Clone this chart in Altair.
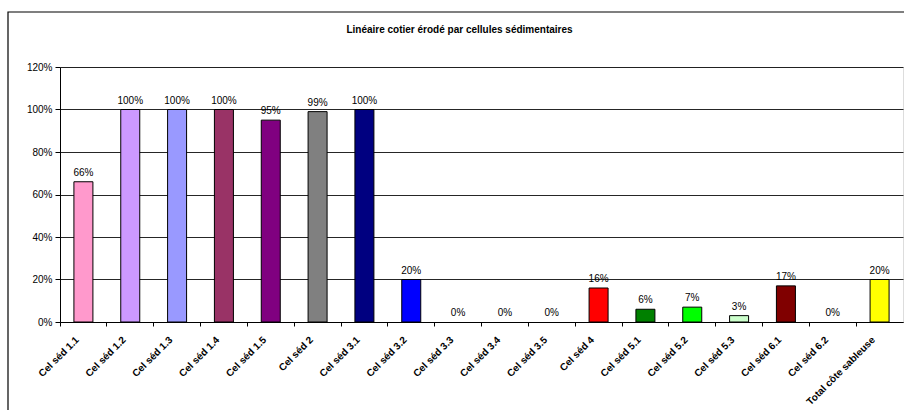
import altair as alt
import pandas as pd

categories = ["Cel séd 1.1", "Cel séd 1.2", "Cel séd 1.3", "Cel séd 1.4", "Cel séd 1.5",
              "Cel séd 2", "Cel séd 3.1", "Cel séd 3.2", "Cel séd 3.3", "Cel séd 3.4",
              "Cel séd 3.5", "Cel séd 4", "Cel séd 5.1", "Cel séd 5.2", "Cel séd 5.3",
              "Cel séd 6.1", "Cel séd 6.2", "Total côte sableuse"]
values = [0.66, 1.00, 1.00, 1.00, 0.95, 0.99, 1.00, 0.20, 0.0, 0.0, 0.0,
          0.16, 0.06, 0.07, 0.03, 0.17, 0.0, 0.20]
colors = ["#FF99CC", "#CC99FF", "#9999FF", "#993366", "#800080", "#808080",
          "#000080", "#0000FF", "#FFFFFF", "#FFFFFF", "#FFFFFF", "#FF0000",
          "#008000", "#00FF00", "#CCFFCC", "#800000", "#FFFFFF", "#FFFF00"]
y_ticks = [0, 0.2, 0.4, 0.6, 0.8, 1.0, 1.2]

df = pd.DataFrame({"cat": categories, "val": values, "col": colors})

FONT = "Liberation Sans"

x = alt.X("cat:N", sort=categories, title=None,
          scale=alt.Scale(paddingInner=0, paddingOuter=0),
          axis=alt.Axis(bandPosition=0, labelAngle=-45, labelAlign="right",
                        labelBaseline="middle", labelFont=FONT, labelFontSize=10,
                        labelFontWeight="bold", labelColor="black",
                        labelOffset=-6, labelPadding=12,
                        tickColor="black", tickSize=4, domainColor="black",
                        labelOverlap=False, grid=False))
y = alt.Y("val:Q", title=None,
          scale=alt.Scale(domain=[0, 1.2], nice=False),
          axis=alt.Axis(values=y_ticks, format=".0%", labelFont=FONT,
                        labelFontSize=10, labelColor="black", tickColor="black",
                        tickSize=5, labelPadding=3, domainColor="black",
                        grid=True, gridColor="black", gridWidth=1, gridOpacity=0.85))

base = alt.Chart(df)

bars = base.transform_filter(alt.datum.val > 0).mark_bar(
    size=19, stroke="black", strokeWidth=1).encode(
    x=x, y=y, color=alt.Color("col:N", scale=None))

labels = base.mark_text(dy=-4, baseline="bottom", font=FONT, fontSize=10,
                        color="black").encode(
    x=alt.X("cat:N", sort=categories), y="val:Q",
    text=alt.Text("val:Q", format=".0%"))

frame = alt.Chart(alt.Data(values=[{"a": 1}])).mark_rect(
    fill=None, stroke="black", strokeWidth=1.2).encode(
    x=alt.value(-52), x2=alt.value(900), y=alt.value(-55), y2=alt.value(400))

chart = alt.layer(frame, bars, labels).properties(
    width=843, height=255,
    title=alt.TitleParams("Linéaire cotier érodé par cellules sédimentaires",
                          font=FONT, fontSize=10, fontWeight="bold",
                          color="black", anchor="middle", dx=-22, offset=-24),
    autosize=alt.AutoSizeParams(type="none"),
    padding={"left": 60, "top": 67, "right": 1, "bottom": 88},
).configure_view(stroke="#808080", strokeWidth=1.5).configure(background="white")

chart.save("out.html", embed_options={"renderer": "svg", "actions": False})
